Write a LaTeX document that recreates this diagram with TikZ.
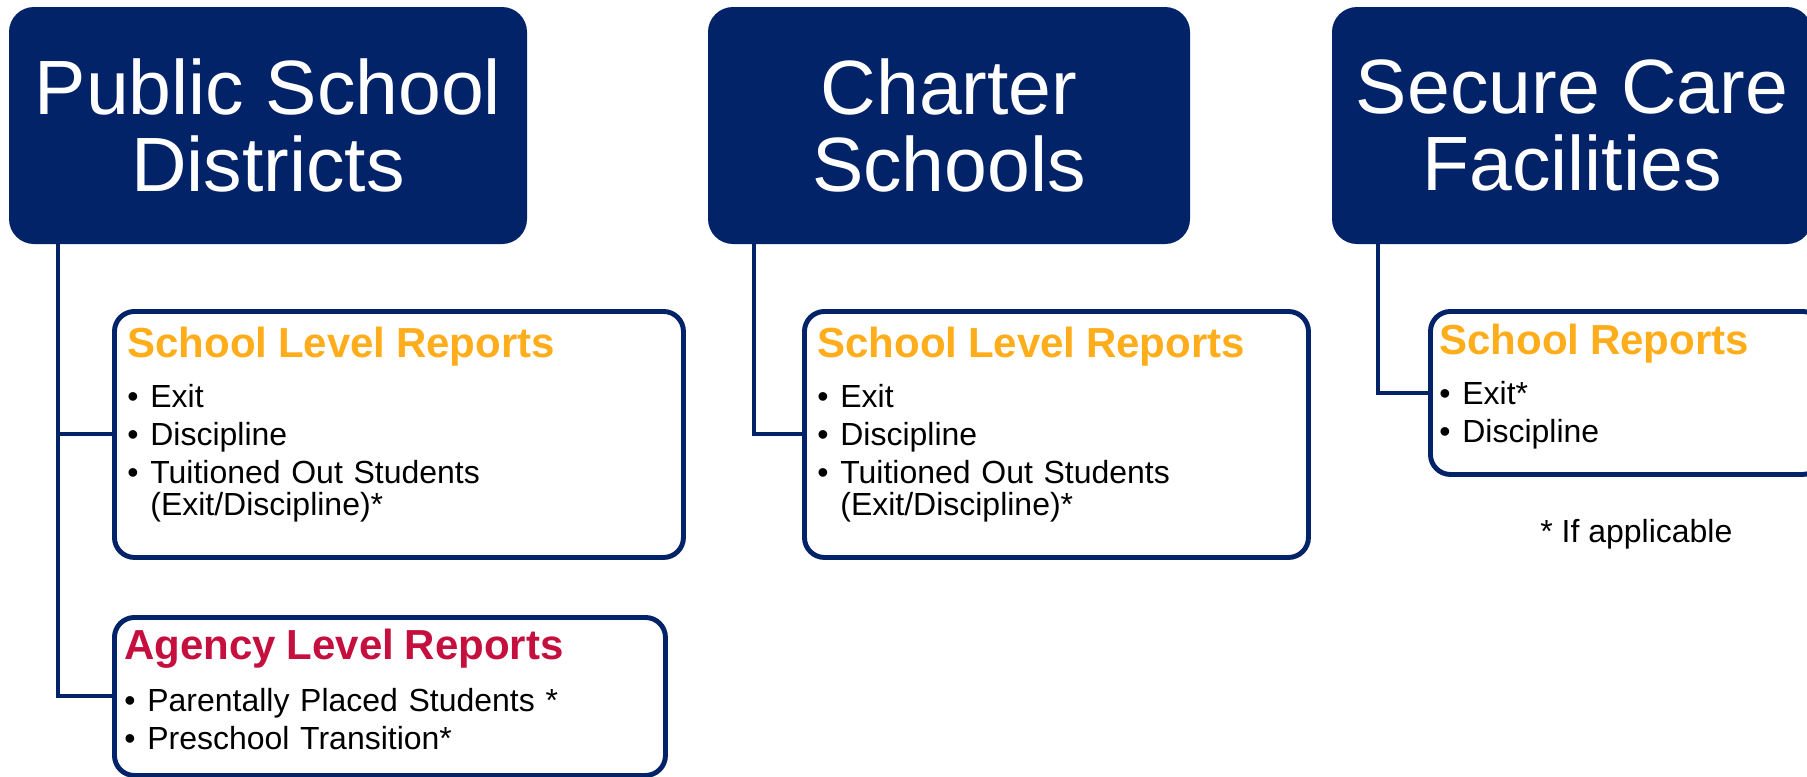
\documentclass[tikz,border=0pt]{standalone}
\usepackage{fontspec}
\setmainfont{Liberation Sans}
\usepackage{tikz}
\usetikzlibrary{positioning}

\definecolor{navy}{RGB}{3,35,104}
\definecolor{rptOrange}{RGB}{255,173,26}
\definecolor{rptRed}{RGB}{197,15,62}

\newlength\bulw
\setlength\bulw{0.46cm}
\newcommand\bul[1]{\par\noindent\makebox[\bulw][l]{\textbullet}%
  \parbox[t]{8.5cm}{\raggedright #1}}
\newcommand\rpttitle[2]{\setlength\parskip{3.4pt}%
  {\fontsize{23.9pt}{23.9pt}\selectfont\bfseries\color{#1}#2\par}\vspace{7.4pt}}

\begin{document}
\begin{tikzpicture}[
    head/.style={fill=navy, text=white, rounded corners=0.5cm,
                 minimum height=4.74cm, inner sep=0pt, align=center,
                 font=\fontsize{43.8pt}{43.8pt}\selectfont},
    rptbox/.style={draw=navy, line width=2.8pt, fill=white,
                   rounded corners=0.4cm, anchor=north west, inner sep=0pt},
    rpttext/.style={anchor=base west, inner sep=0pt, text width=9.5cm,
                    align=left, font=\fontsize{18.2pt}{18.2pt}\selectfont},
    conn/.style={draw=navy, line width=2.3pt},
  ]

  \path[use as bounding box, clip] (0,0) rectangle (36.14,-15.52);

  % Top level boxes
  \node[head, minimum width=10.36cm] (pubHead) at (5.36,-2.51)
    {Public School\\Districts};
  \node[head, minimum width=9.64cm] (chaHead) at (18.98,-2.51)
    {Charter\\Schools};
  \node[head, minimum width=9.6cm] (secHead) at (31.44,-2.51)
    {Secure Care\\Facilities};

  % Report boxes
  \node[rptbox, minimum width=11.38cm, minimum height=4.92cm]
    (slrPub) at (2.24,-6.18) {};
  \node[rptbox, minimum width=11.02cm, minimum height=3.16cm]
    (alrPub) at (2.24,-12.30) {};
  \node[rptbox, minimum width=10.08cm, minimum height=4.92cm]
    (slrCha) at (16.04,-6.18) {};
  \node[rptbox, minimum width=7.84cm, minimum height=3.26cm]
    (srSec) at (28.56,-6.18) {};

  % Connectors
  \draw[conn] ([xshift=0.98cm]pubHead.south west) |- (slrPub.west);
  \draw[conn] ([xshift=0.98cm]pubHead.south west) |- (alrPub.west);
  \draw[conn] ([xshift=0.92cm]chaHead.south west) |- (slrCha.west);
  \draw[conn] ([xshift=0.92cm]secHead.south west) |- (srSec.west);

  % Report lists
  \node[rpttext] (slrPubTxt) at ([xshift=0.30cm, yshift=-0.96cm]slrPub.north west)
    {\rpttitle{rptOrange}{School Level Reports}%
     \bul{Exit}\bul{Discipline}%
     \bul{Tuitioned Out Students\\(Exit/Discipline)*}};
  \node[rpttext] (alrPubTxt) at ([xshift=0.24cm, yshift=-0.88cm]alrPub.north west)
    {\rpttitle{rptRed}{Agency Level Reports}%
     \bul{Parentally Placed Students *}\bul{Preschool Transition*}};
  \node[rpttext] (slrChaTxt) at ([xshift=0.30cm, yshift=-0.96cm]slrCha.north west)
    {\rpttitle{rptOrange}{School Level Reports}%
     \bul{Exit}\bul{Discipline}%
     \bul{Tuitioned Out Students\\(Exit/Discipline)*}};
  \node[rpttext] (srSecTxt) at ([xshift=0.22cm, yshift=-0.90cm]srSec.north west)
    {\rpttitle{rptOrange}{School Reports}%
     \bul{Exit*}\bul{Discipline}};

  % Footnote
  \node[anchor=base west, inner sep=0pt, font=\fontsize{18.2pt}{18.2pt}\selectfont]
    (note) at (30.8,-10.84) {* If applicable};

\end{tikzpicture}
\end{document}
